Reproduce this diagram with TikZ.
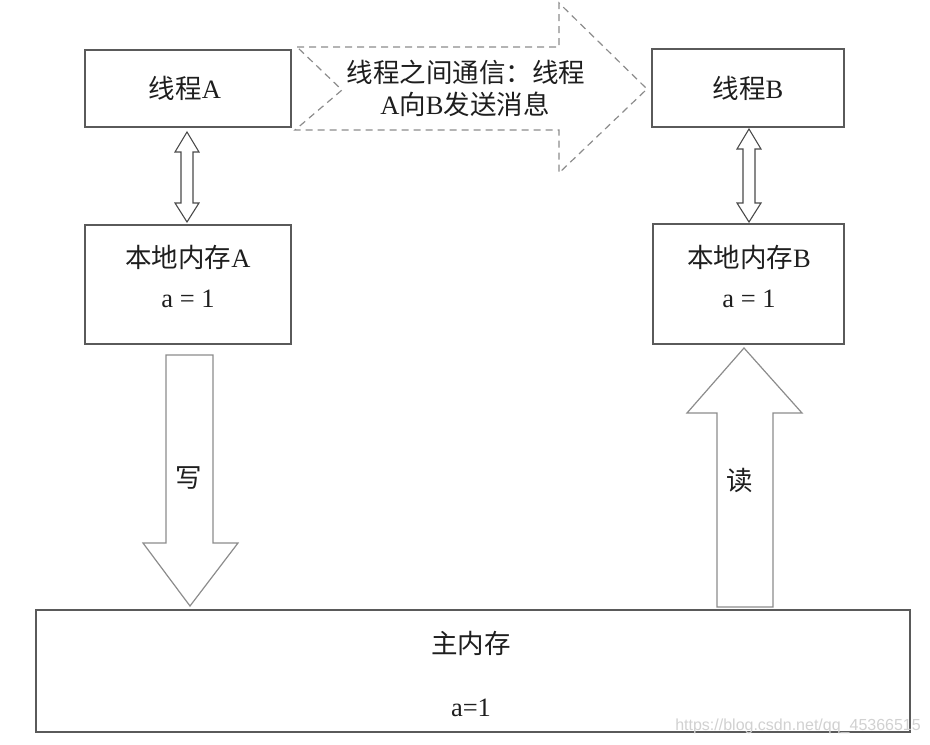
\documentclass[tikz,border=0pt]{standalone}
\usepackage{fontspec}
\setmainfont{Liberation Serif}
\newfontfamily\cjk{Noto Sans CJK SC}
\newfontfamily\wmfont{Liberation Sans}
\definecolor{boxgray}{HTML}{5A5A5A}
\definecolor{arrgray}{HTML}{8C8C8C}
\definecolor{dblgray}{HTML}{4A4A4A}
\definecolor{txt}{HTML}{1E1E1E}
\begin{document}
\begin{tikzpicture}[x=1pt,y=-1pt,
  box/.style={draw=boxgray,line width=1.3pt,fill=white,inner sep=0pt},
  lbl/.style={text=txt,font=\fontsize{26.5}{31}\selectfont,inner sep=0pt},
  bigarrow/.style={draw=arrgray,line width=1.2pt,line join=miter,fill=white},
  dblarrow/.style={draw=dblgray,line width=1.1pt,line join=miter,fill=white},
  dasharrow/.style={draw=arrgray,line width=1.2pt,dash pattern=on 7pt off 5pt,line join=miter}
]
\useasboundingbox (0,0) rectangle (930,745);

% boxes
\node[box,minimum width=206pt,minimum height=77pt] (ta) at (188,88.5) {};
\node[box,minimum width=192pt,minimum height=78pt] (tb) at (748,88) {};
\node[box,minimum width=206pt,minimum height=119pt] (la) at (188,284.5) {};
\node[box,minimum width=191pt,minimum height=120pt] (lb) at (748.5,284) {};
\node[box,minimum width=874pt,minimum height=122pt] (mm) at (473,671) {};

% box texts
\node[lbl] (taT) at (185,88) {{\cjk 线程}A};
\node[lbl] (tbT) at (748,88) {{\cjk 线程}B};
\node[lbl] (laT1) at (188,257) {{\cjk 本地内存}A};
\node[lbl] (laT2) at (188,299) {a = 1};
\node[lbl] (lbT1) at (749,257) {{\cjk 本地内存}B};
\node[lbl] (lbT2) at (749,299) {a = 1};
\node[lbl] (mmT1) at (471,643) {\cjk 主内存};
\node[lbl] (mmT2) at (471,708) {a=1};

% dashed message arrow
\draw[dasharrow] (297,47) -- (559,47) -- (559,3) -- (647,89) -- (559,173) -- (559,130) -- (295,130) -- (342,90) -- cycle;
\node[lbl] (msg1) at (466,72) {\cjk 线程之间通信：线程};
\node[lbl] (msg2) at (465,104) {A{\cjk 向}B{\cjk 发送消息}};

% double arrows thread <-> local memory
\draw[dblarrow] (187,132) -- (199,152) -- (193,152) -- (193,203) -- (199,203) -- (187,222)
  -- (175,203) -- (181,203) -- (181,152) -- (175,152) -- cycle;
\draw[dblarrow] (749,129) -- (761,149) -- (755,149) -- (755,203) -- (761,203) -- (749,222)
  -- (737,203) -- (743,203) -- (743,149) -- (737,149) -- cycle;

% write arrow
\draw[bigarrow] (166,355) -- (213,355) -- (213,543) -- (238,543) -- (190,606) -- (143,543) -- (166,543) -- cycle;
\node[lbl] (wr) at (189,478) {\cjk 写};

% read arrow
\draw[bigarrow] (717,607) -- (717,413) -- (687,413) -- (744,348) -- (802,413) -- (773,413) -- (773,607) -- cycle;
\node[lbl] (rd) at (740,480) {\cjk 读};

% watermark
\node[text=black!18,font=\wmfont\fontsize{16}{18}\selectfont,anchor=east,inner sep=0pt] (wm) at (921,726) {https://blog.csdn.net/qq\_45366515};
\end{tikzpicture}
\end{document}
